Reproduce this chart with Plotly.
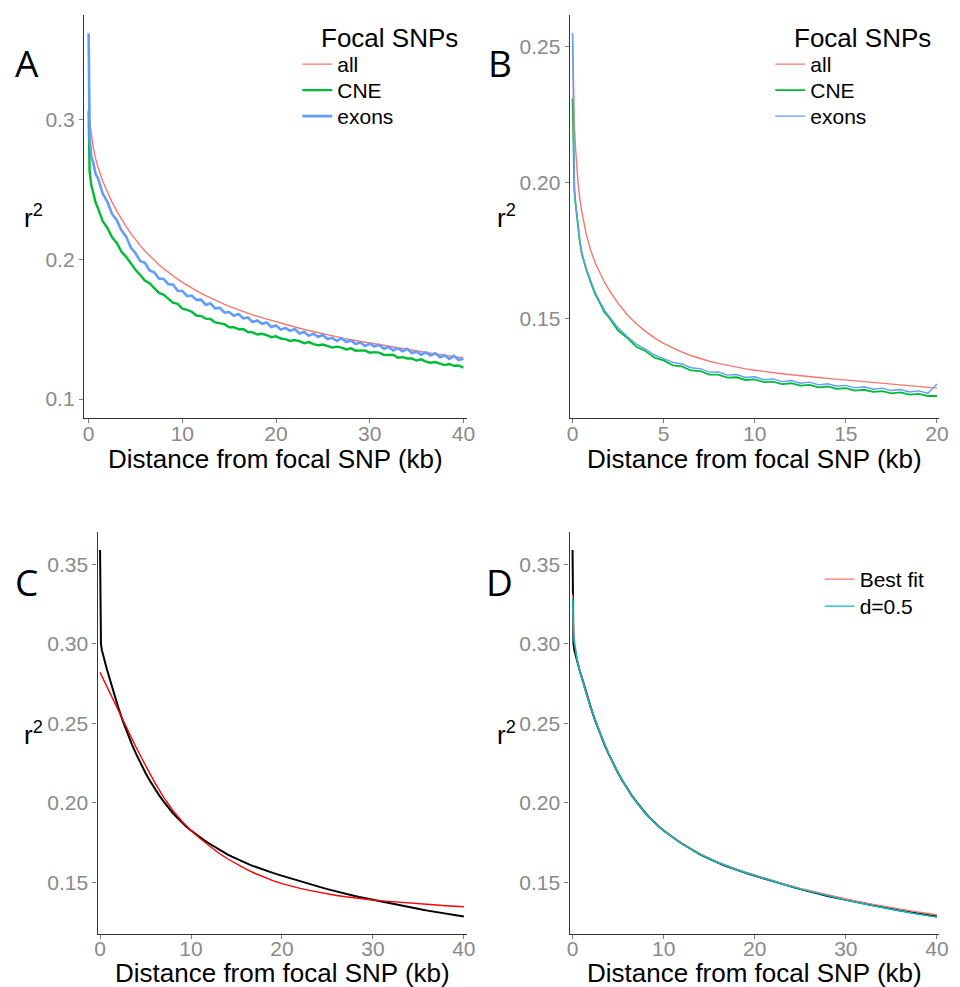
import plotly.graph_objects as go

# ---------------- data ----------------
# Panel A (and C/D observed): distance grid in kb
dist_a = [0, 0.05, 0.1, 0.2, 0.3, 0.5, 0.75, 1.0,
          1.5, 2.0, 2.5, 3.0, 3.5, 4.0, 4.5, 5.0, 5.5, 6.0, 6.5, 7.0, 7.5, 8.0, 8.5, 9.0, 9.5, 10.0,
          10.5, 11.0, 11.5, 12.0, 12.5, 13.0, 13.5, 14.0, 14.5, 15.0, 15.5, 16.0, 16.5, 17.0, 17.5,
          18.0, 18.5, 19.0, 19.5, 20.0, 20.5, 21.0, 21.5, 22.0, 22.5, 23.0, 23.5, 24.0, 24.5, 25.0,
          25.5, 26.0, 26.5, 27.0, 27.5, 28.0, 28.5, 29.0, 29.5, 30.0, 30.5, 31.0, 31.5, 32.0, 32.5,
          33.0, 33.5, 34.0, 34.5, 35.0, 35.5, 36.0, 36.5, 37.0, 37.5, 38.0, 38.5, 39.0, 39.5, 40.0]

a_all = [0.359, 0.318, 0.303, 0.294, 0.289, 0.280, 0.272, 0.266,
         0.256, 0.248, 0.241, 0.2345, 0.2288, 0.2235, 0.2186, 0.2140, 0.2098, 0.2060, 0.2025, 0.1993,
         0.1962, 0.1934, 0.1907, 0.1882, 0.1858, 0.1835, 0.1814, 0.1794, 0.1775, 0.1757, 0.1740,
         0.1723, 0.1707, 0.1692, 0.1678, 0.1664, 0.1651, 0.1638, 0.1626, 0.1614, 0.1603, 0.1592,
         0.1582, 0.1572, 0.1563, 0.1554, 0.1544, 0.1534, 0.1525, 0.1516, 0.1507, 0.1498, 0.1490,
         0.1482, 0.1474, 0.1466, 0.1459, 0.1452, 0.1445, 0.1438, 0.1431, 0.1424, 0.1418, 0.1412,
         0.1406, 0.1400, 0.1394, 0.1388, 0.1382, 0.1376, 0.1370, 0.1365, 0.1359, 0.1354, 0.1348,
         0.1343, 0.1338, 0.1333, 0.1328, 0.1323, 0.1318, 0.1313, 0.1309, 0.1304, 0.1300, 0.1295]

a_cne = [0.306, 0.276, 0.263, 0.2575, 0.2525, 0.2475, 0.2405, 0.2365,
         0.2273, 0.2225, 0.2158, 0.2118, 0.2055, 0.2018, 0.1968, 0.1925, 0.1888, 0.1848, 0.1830,
         0.1792, 0.1760, 0.1747, 0.1718, 0.1690, 0.1681, 0.1647, 0.1639, 0.1625, 0.1598, 0.1594,
         0.1576, 0.1573, 0.1548, 0.1542, 0.1536, 0.1514, 0.1514, 0.1500, 0.1501, 0.1480, 0.1477,
         0.1462, 0.1467, 0.1458, 0.1443, 0.1449, 0.1433, 0.1429, 0.1416, 0.1422, 0.1414, 0.1400,
         0.1408, 0.1393, 0.1385, 0.1390, 0.1380, 0.1368, 0.1375, 0.1368, 0.1355, 0.1363, 0.1346,
         0.1347, 0.1348, 0.1332, 0.1336, 0.1332, 0.1316, 0.1315, 0.1317, 0.1296, 0.1300, 0.1290,
         0.1291, 0.1276, 0.1284, 0.1268, 0.1260, 0.1265, 0.1255, 0.1243, 0.1250, 0.1238, 0.1240, 0.1225]

a_exons = [0.362, 0.300, 0.287, 0.280, 0.273, 0.269, 0.261, 0.258,
           0.247, 0.2413, 0.2325, 0.228, 0.2208, 0.2163, 0.2085, 0.2045, 0.1988, 0.1975, 0.1921,
           0.1907, 0.1863, 0.1860, 0.1822, 0.1820, 0.1775, 0.1774, 0.1736, 0.1741, 0.1710, 0.1712,
           0.1674, 0.1685, 0.1649, 0.1653, 0.1618, 0.1623, 0.1596, 0.1608, 0.1577, 0.1584, 0.1552,
           0.1562, 0.1539, 0.1548, 0.1516, 0.1527, 0.1497, 0.1509, 0.1488, 0.1501, 0.1469, 0.1480,
           0.1453, 0.1468, 0.1446, 0.1458, 0.1429, 0.1438, 0.1415, 0.1436, 0.1408, 0.1419, 0.1393,
           0.1405, 0.1379, 0.1396, 0.1376, 0.1389, 0.1360, 0.1373, 0.1348, 0.1364, 0.1342, 0.1359,
           0.1329, 0.1339, 0.1317, 0.1334, 0.1312, 0.1327, 0.1299, 0.1312, 0.1287, 0.1309, 0.1279, 0.1289]

# Panel B
dist_b = [0, 0.05, 0.1, 0.15, 0.2, 0.3, 0.4, 0.5, 0.75, 1.0, 1.25, 1.5, 1.75, 2.0,
          2.5, 3.0, 3.5, 4.0, 4.5, 5.0, 5.5, 6.0, 6.5, 7.0, 7.5, 8.0, 8.5, 9.0, 9.5, 10.0,
          10.5, 11.0, 11.5, 12.0, 12.5, 13.0, 13.5, 14.0, 14.5, 15.0, 15.5, 16.0, 16.5, 17.0,
          17.5, 18.0, 18.5, 19.0, 19.5, 20.0]

b_all = [0.255, 0.232, 0.221, 0.214, 0.208, 0.2000, 0.1940, 0.1895, 0.1810, 0.1750, 0.1703,
         0.1665, 0.1633, 0.1605, 0.1555, 0.1513, 0.1480, 0.1452, 0.1428, 0.1408, 0.1391, 0.1376,
         0.1363, 0.1352, 0.1342, 0.1334, 0.1327, 0.1320, 0.1314, 0.1309, 0.1304, 0.1300, 0.1296,
         0.1292, 0.1288, 0.1285, 0.1282, 0.1279, 0.1276, 0.1273, 0.1270, 0.1267, 0.1264, 0.1261,
         0.1258, 0.1255, 0.1252, 0.1249, 0.1246, 0.1243]

b_cne = [0.231, 0.205, 0.197, 0.193, 0.190, 0.183, 0.178, 0.174, 0.168, 0.1632, 0.1588,
         0.1557, 0.1522, 0.1503, 0.1455, 0.1428, 0.1395, 0.1380, 0.1355, 0.1345, 0.1327, 0.1323,
         0.1308, 0.1306, 0.1293, 0.1293, 0.1282, 0.1283, 0.1273, 0.1275, 0.1265, 0.1267, 0.1258,
         0.1261, 0.1252, 0.1255, 0.1246, 0.1249, 0.1240, 0.1243, 0.1234, 0.1237, 0.1229, 0.1232,
         0.1224, 0.1227, 0.1219, 0.1222, 0.1214, 0.1214]

b_exons = [0.255, 0.207, 0.198, 0.1935, 0.1905, 0.1835, 0.1785, 0.1745, 0.1685, 0.1638, 0.1594,
           0.1562, 0.1530, 0.1508, 0.1465, 0.1433, 0.1405, 0.1387, 0.1365, 0.1352, 0.1338, 0.1332,
           0.1318, 0.1315, 0.1302, 0.1303, 0.1291, 0.1293, 0.1282, 0.1285, 0.1274, 0.1277, 0.1267,
           0.1271, 0.1261, 0.1265, 0.1255, 0.1259, 0.1250, 0.1253, 0.1244, 0.1248, 0.1239, 0.1243,
           0.1234, 0.1238, 0.1229, 0.1233, 0.1224, 0.1258]

# Panels C and D: observed r2 (black), same grid as panel A
cd_obs = [0.359, 0.305, 0.300, 0.296, 0.293, 0.2895, 0.284, 0.279,
          0.269, 0.260, 0.2515, 0.2438, 0.2368, 0.2303, 0.2243, 0.2188, 0.2137, 0.2090, 0.2047,
          0.2007, 0.1970, 0.1936, 0.1905, 0.1876, 0.1850, 0.1826, 0.1804, 0.1783, 0.1763, 0.1744,
          0.1726, 0.1709, 0.1692, 0.1676, 0.1661, 0.1647, 0.1634, 0.1622, 0.1610, 0.1599, 0.1588,
          0.1578, 0.1568, 0.1559, 0.1550, 0.1541, 0.1532, 0.1523, 0.1514, 0.1505, 0.1497, 0.1489,
          0.1481, 0.1473, 0.1465, 0.1457, 0.1449, 0.1442, 0.1435, 0.1428, 0.1421, 0.1414, 0.1407,
          0.1401, 0.1395, 0.1389, 0.1383, 0.1377, 0.1371, 0.1365, 0.1359, 0.1354, 0.1348, 0.1343,
          0.1337, 0.1332, 0.1327, 0.1322, 0.1317, 0.1312, 0.1307, 0.1303, 0.1298, 0.1294, 0.1289, 0.1285]

# Panel C: fitted curve
dist_c_fit = [0, 1, 2, 3, 4, 5, 6, 7, 8, 9, 10, 11, 12, 13, 14, 15, 16, 17, 18, 19, 20,
              21, 22, 23, 24, 25, 26, 27, 28, 29, 30, 31, 32, 33, 34, 35, 36, 37, 38, 39, 40]
c_fit = [0.2820, 0.2700, 0.2580, 0.2460, 0.2345, 0.2235, 0.2128, 0.2034, 0.1952, 0.1884, 0.1826,
         0.1775, 0.1728, 0.1686, 0.1648, 0.1614, 0.1584, 0.1557, 0.1533, 0.1511, 0.1492,
         0.1476, 0.1462, 0.1449, 0.1437, 0.1427, 0.1417, 0.1409, 0.1401, 0.1395, 0.1389,
         0.1383, 0.1378, 0.1373, 0.1369, 0.1365, 0.1361, 0.1357, 0.1353, 0.1349, 0.1346]

# Panel D: two model fits
dist_d_fit = [0, 0.05, 0.1, 0.2, 0.3, 0.5, 0.75, 1, 1.5, 2, 3, 4, 5, 6, 7, 8, 9, 10, 12, 14, 16,
              18, 20, 22.5, 25, 27.5, 30, 32.5, 35, 37.5, 40]
d_best = [0.331, 0.317, 0.310, 0.302, 0.2970, 0.2905, 0.2842, 0.2788, 0.2690, 0.2600, 0.2441,
          0.2305, 0.2189, 0.2090, 0.2006, 0.1935, 0.1875, 0.1825, 0.1743, 0.1678, 0.1626,
          0.1582, 0.1545, 0.1501, 0.1462, 0.1427, 0.1395, 0.1366, 0.1340, 0.1317, 0.1296]
d_half = [0.329, 0.316, 0.309, 0.301, 0.2965, 0.2900, 0.2838, 0.2785, 0.2688, 0.2598, 0.2440,
          0.2304, 0.2188, 0.2089, 0.2005, 0.1934, 0.1874, 0.1823, 0.1741, 0.1676, 0.1623,
          0.1579, 0.1541, 0.1497, 0.1457, 0.1421, 0.1388, 0.1357, 0.1329, 0.1304, 0.1281]

series_names = ["all", "CNE", "exons"]
fit_names = ["Best fit", "d=0.5"]
legend_title = "Focal SNPs"
panel_letters = ["A", "B", "C", "D"]
x_title = "Distance from focal SNP (kb)"
y_title = "r<sup>2</sup>"

# ---------------- styling ----------------
W, H = 960, 987
FONT = "Liberation Sans, Arial, Helvetica, sans-serif"
C_ALL, C_CNE, C_EX = "#F8766D", "#00BA38", "#619CFF"
C_CYAN = "#00BFC4"


def px_x(p):
    return p / W


def px_y(p):
    return 1 - p / H


fig = go.Figure()

# Panel A
fig.add_trace(go.Scatter(x=dist_a, y=a_all, name=series_names[0], mode="lines",
                         line=dict(color=C_ALL, width=1.4), xaxis="x", yaxis="y", legend="legend"))
fig.add_trace(go.Scatter(x=dist_a, y=a_cne, name=series_names[1], mode="lines",
                         line=dict(color=C_CNE, width=2.4), xaxis="x", yaxis="y", legend="legend4"))
fig.add_trace(go.Scatter(x=dist_a, y=a_exons, name=series_names[2], mode="lines",
                         line=dict(color=C_EX, width=2.6), xaxis="x", yaxis="y", legend="legend5"))
# Panel B
fig.add_trace(go.Scatter(x=dist_b, y=b_all, name=series_names[0], mode="lines",
                         line=dict(color=C_ALL, width=1.4), xaxis="x2", yaxis="y2", legend="legend2"))
fig.add_trace(go.Scatter(x=dist_b, y=b_cne, name=series_names[1], mode="lines",
                         line=dict(color=C_CNE, width=1.8), xaxis="x2", yaxis="y2", legend="legend6"))
fig.add_trace(go.Scatter(x=dist_b, y=b_exons, name=series_names[2], mode="lines",
                         line=dict(color=C_EX, width=1.4), xaxis="x2", yaxis="y2", legend="legend7"))
# Panel C
fig.add_trace(go.Scatter(x=dist_a, y=cd_obs, name="observed", mode="lines", showlegend=False,
                         line=dict(color="black", width=2), xaxis="x3", yaxis="y3"))
fig.add_trace(go.Scatter(x=dist_c_fit, y=c_fit, name="fit", mode="lines", showlegend=False,
                         line=dict(color="#FF0000", width=1.4), xaxis="x3", yaxis="y3"))
# Panel D
fig.add_trace(go.Scatter(x=dist_a, y=cd_obs, name="observed", mode="lines", showlegend=False,
                         line=dict(color="black", width=2), xaxis="x4", yaxis="y4"))
fig.add_trace(go.Scatter(x=dist_d_fit, y=d_best, name=fit_names[0], mode="lines",
                         line=dict(color=C_ALL, width=1.4), xaxis="x4", yaxis="y4", legend="legend3"))
fig.add_trace(go.Scatter(x=dist_d_fit, y=d_half, name=fit_names[1], mode="lines",
                         line=dict(color=C_CYAN, width=1.4), xaxis="x4", yaxis="y4", legend="legend8"))

axis_common = dict(showgrid=False, zeroline=False, showline=True, linecolor="#333333", linewidth=1.3,
                   ticks="outside", ticklen=4, tickwidth=1, tickcolor="#7f7f7f",
                   tickfont=dict(family=FONT, size=21, color="#8a8a8a"))

panels = {
    "A": dict(xd=[82, 470], yd=[15, 418], xr=[-0.5, 40.4], yr=[0.0864, 0.375],
              xt=[0, 10, 20, 30, 40], yt=[0.1, 0.2, 0.3], yf=".1f"),
    "B": dict(xd=[574, 948], yd=[15, 418], xr=[-0.15, 20.12], yr=[0.1133, 0.2617],
              xt=[0, 5, 10, 15, 20], yt=[0.15, 0.20, 0.25], yf=".2f"),
    "C": dict(xd=[95.7, 470], yd=[531.7, 934.3], xr=[-0.28, 40.36], yr=[0.1173, 0.3705],
              xt=[0, 10, 20, 30, 40], yt=[0.15, 0.20, 0.25, 0.30, 0.35], yf=".2f"),
    "D": dict(xd=[573.7, 948.3], yd=[531.7, 934.3], xr=[-0.33, 40.28], yr=[0.1173, 0.3705],
              xt=[0, 10, 20, 30, 40], yt=[0.15, 0.20, 0.25, 0.30, 0.35], yf=".2f"),
}

layout = dict(width=W, height=H, margin=dict(l=0, r=0, t=0, b=0),
              paper_bgcolor="white", plot_bgcolor="white",
              font=dict(family=FONT, color="black"))
annotations = []
for i, key in enumerate(panel_letters):
    p = panels[key]
    sfx = "" if i == 0 else str(i + 1)
    top_row = i < 2
    layout["xaxis" + sfx] = dict(axis_common, domain=[px_x(p["xd"][0]), px_x(p["xd"][1])],
                                 range=p["xr"], tickvals=p["xt"], anchor="y" + sfx,
                                 ticklabelstandoff=-7 if top_row else -9)
    layout["yaxis" + sfx] = dict(axis_common, domain=[px_y(p["yd"][1]), px_y(p["yd"][0])],
                                 range=p["yr"], tickvals=p["yt"], tickformat=p["yf"], anchor="x" + sfx)
    ymid = (p["yd"][0] + p["yd"][1]) / 2
    xmid = (p["xd"][0] + p["xd"][1]) / 2
    # x-axis title
    annotations.append(dict(text=x_title, xref="paper", yref="paper",
                            x=px_x(xmid), y=px_y(459 if top_row else 973),
                            xanchor="center", yanchor="middle", showarrow=False,
                            font=dict(family=FONT, size=26, color="black")))
    # y-axis title (horizontal, as in the original)
    annotations.append(dict(text=y_title, xref="paper", yref="paper",
                            x=px_x(31 if i % 2 == 0 else 510), y=px_y(ymid),
                            xanchor="center", yanchor="middle", showarrow=False,
                            font=dict(family=FONT, size=26, color="black")))
    # panel letter
    annotations.append(dict(text=key, xref="paper", yref="paper",
                            x=px_x(24 if i % 2 == 0 else 503), y=px_y(63 if top_row else 581),
                            xanchor="center", yanchor="middle", showarrow=False,
                            font=dict(family="Open Sans, Liberation Sans, sans-serif", size=37, color="black")))

# legend titles
for lx in (320, 799):
    annotations.append(dict(text=legend_title, xref="paper", yref="paper",
                            x=px_x(lx), y=px_y(38), xanchor="left", yanchor="middle",
                            showarrow=False, font=dict(family=FONT, size=26, color="black")))

leg_common = dict(bgcolor="rgba(0,0,0,0)", borderwidth=0, font=dict(family=FONT, size=21, color="black"),
                  xanchor="left", yanchor="top", itemclick=False, itemdoubleclick=False,
                  tracegroupgap=0)
# one legend box per entry: (legend id, text left px, entry centre px)
legend_slots = [("legend", 338, 65), ("legend4", 338, 91), ("legend5", 338, 117),
                ("legend2", 817, 65), ("legend6", 817, 91), ("legend7", 817, 117),
                ("legend3", 867, 580), ("legend8", 867, 607)]
for lid, tx, cy in legend_slots:
    layout[lid] = dict(leg_common, x=px_x(tx - 40), y=px_y(cy - 21))
layout["annotations"] = annotations

fig.update_layout(**layout)
fig.write_html("out.html", config={"displayModeBar": False},
               post_script="document.body.style.margin='0px';document.body.style.overflow='hidden';")
